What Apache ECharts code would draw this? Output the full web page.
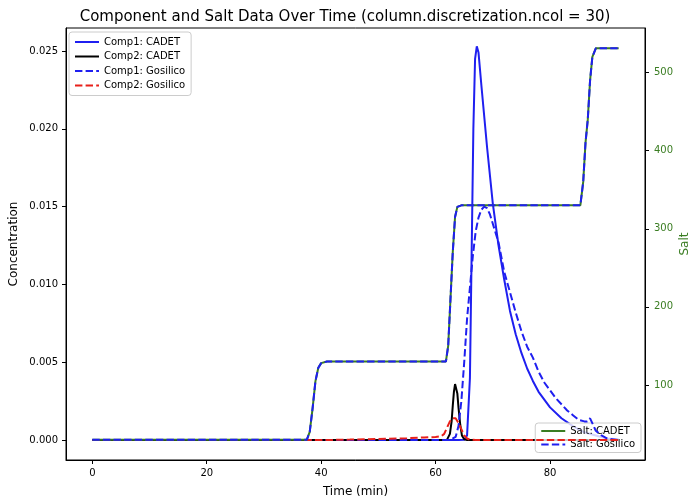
<!DOCTYPE html>
<html>
<head>
<meta charset="utf-8">
<script src="https://cdn.jsdelivr.net/npm/echarts@6/dist/echarts.min.js"></script>
<style>html,body{margin:0;padding:0;background:#fff;}#c{width:689px;height:500px;}</style>
</head>
<body>
<div id="c"></div>
<script>
// ---- Data ----
const saltT = [0, 37.5, 38, 38.5, 39, 39.5, 40, 41, 61.8, 62.2, 62.6, 63, 63.4, 63.8, 64.5, 85.3, 85.8, 86.2, 86.6, 87, 87.4, 88, 92];
const saltCadet = [30, 30, 40, 70, 105, 122, 128, 130, 130, 150, 210, 270, 315, 328, 330, 330, 360, 410, 440, 490, 520, 531, 531];
const saltGosilico = [30, 30, 40, 70, 105, 122, 128, 130, 130, 150, 210, 270, 315, 328, 330, 330, 360, 410, 440, 490, 520, 531, 531];

const comp1CadetT = [0, 64, 65, 65.5, 66, 66.3, 66.6, 66.9, 67.2, 67.5, 68, 69, 70, 71, 72, 73, 74, 75, 76, 77, 78, 80, 82, 84, 86, 88, 90, 92];
const comp1Cadet = [0, 0, 0.00002, 0.0003, 0.004, 0.012, 0.02, 0.0245, 0.0253, 0.0249, 0.0228, 0.0188, 0.0152, 0.0125, 0.0103, 0.0083, 0.0068, 0.0056, 0.0046, 0.0038, 0.0031, 0.0021, 0.0014, 0.0009, 0.0005, 0.0003, 0.0001, 0.00005];

const comp2CadetT = [0, 61.5, 62, 62.5, 62.8, 63, 63.2, 63.4, 63.6, 63.8, 64, 64.3, 64.6, 65, 65.5, 92];
const comp2Cadet = [0, 0, 0.00003, 0.0004, 0.0012, 0.0022, 0.0031, 0.0036, 0.0036, 0.003, 0.0021, 0.001, 0.0003, 0.00005, 0, 0];

const comp1GosT = [0, 62.5, 63.5, 64, 64.5, 65, 65.5, 66, 66.5, 67, 67.5, 68, 68.5, 69, 69.5, 70, 71, 72, 73, 74, 75, 76, 77, 78, 79, 80, 81, 82, 83, 84, 85, 86, 86.5, 87, 87.5, 88, 89, 90, 92];
const comp1Gosilico = [0, 0, 0.0002, 0.0009, 0.0025, 0.005, 0.0078, 0.0098, 0.0118, 0.0134, 0.0143, 0.0148, 0.015, 0.0149, 0.0145, 0.0139, 0.0127, 0.0108, 0.0095, 0.0082, 0.0070, 0.0060, 0.0053, 0.0044, 0.0037, 0.0032, 0.0027, 0.0023, 0.0019, 0.0016, 0.0013, 0.0012, 0.0012, 0.0014, 0.001, 0.0006, 0.0003, 0.0001, 0];

const comp2GosT = [0, 40, 45, 50, 55, 58, 60, 61, 61.5, 62, 62.5, 63, 63.5, 64, 64.5, 65, 65.5, 66, 67, 92];
const comp2Gosilico = [0, 0, 0.00003, 0.00007, 0.00012, 0.00017, 0.0002, 0.00025, 0.0004, 0.0008, 0.0012, 0.0014, 0.0014, 0.0011, 0.0007, 0.0003, 0.0001, 0.00003, 0, 0];

const xTicks = [0, 20, 40, 60, 80];
const yTicks = [0, 0.005, 0.01, 0.015, 0.02, 0.025];
const saltTicks = [100, 200, 300, 400, 500];

// ---- Build chart ----
const zip = (a, b) => a.map((x, i) => [x, b[i]]);
const FONT = 'DejaVu Sans';
const GREEN = '#3a7d22';
const BLUE = '#1f1ff0';
const RED = '#e8201a';
const DASH = [7.4, 3.2];

const chart = echarts.init(document.getElementById('c'), null, {renderer: 'canvas'});
const legendCommon = {
  orient: 'vertical',
  itemWidth: 24, itemHeight: 10,
  backgroundColor: 'rgba(255,255,255,0.8)', borderColor: '#ccc', borderWidth: 1, borderRadius: 3,
  textStyle: {fontFamily: FONT, fontSize: 10, color: '#000'},
  itemStyle: {color: 'transparent', borderWidth: 0, opacity: 0}
};
chart.setOption({
  animation: false,
  backgroundColor: '#fff',
  textStyle: {fontFamily: FONT},
  title: {
    text: 'Component and Salt Data Over Time (column.discretization.ncol = 30)',
    left: 340, top: 5, textAlign: 'center',
    textStyle: {fontFamily: FONT, fontSize: 15, fontWeight: 'normal', color: '#000'}
  },
  grid: {left: 66, right: 44, top: 28, bottom: 40, show: true, borderColor: '#000', borderWidth: 1, backgroundColor: 'transparent', containLabel: false, outerBoundsMode: 'none'},
  xAxis: {
    type: 'value', min: -4.6, max: 96.6,
    name: 'Time (min)', nameLocation: 'middle', nameGap: 26, nameMoveOverlap: false,
    nameTextStyle: {fontFamily: FONT, fontSize: 12, color: '#000'},
    axisLine: {show: true, onZero: false, lineStyle: {color: '#000'}},
    axisTick: {show: true, inside: false, length: 4, lineStyle: {color: '#000'}, customValues: xTicks},
    axisLabel: {fontFamily: FONT, fontSize: 10, color: '#000', margin: 8, customValues: xTicks},
    splitLine: {show: false}
  },
  yAxis: [{
    type: 'value', min: -0.00128, max: 0.02648, position: 'left',
    name: 'Concentration', nameLocation: 'middle', nameGap: 46, nameMoveOverlap: false,
    nameTextStyle: {fontFamily: FONT, fontSize: 12, color: '#000'},
    axisLine: {show: true, onZero: false, lineStyle: {color: '#000'}},
    axisTick: {show: true, inside: false, length: 4, lineStyle: {color: '#000'}, customValues: yTicks},
    axisLabel: {fontFamily: FONT, fontSize: 10, color: '#000', margin: 8, customValues: yTicks, formatter: v => v.toFixed(3)},
    splitLine: {show: false}
  }, {
    type: 'value', min: 4, max: 557, position: 'right',
    name: 'Salt', nameLocation: 'middle', nameGap: 34, nameRotate: 90, nameMoveOverlap: false,
    nameTextStyle: {fontFamily: FONT, fontSize: 12, color: GREEN},
    axisLine: {show: true, onZero: false, lineStyle: {color: '#000'}},
    axisTick: {show: true, inside: false, length: 4, lineStyle: {color: '#000'}, customValues: saltTicks},
    axisLabel: {fontFamily: FONT, fontSize: 10, color: GREEN, margin: 9, customValues: saltTicks},
    splitLine: {show: false}
  }],
  legend: [Object.assign({}, legendCommon, {
    left: 69, top: 32,
    data: ['Comp1: CADET', 'Comp2: CADET', 'Comp1: Gosilico', 'Comp2: Gosilico'],
    itemGap: 4.5, padding: [5, 6, 5, 5]
  }), Object.assign({}, legendCommon, {
    right: 48, top: 423,
    data: ['Salt: CADET', 'Salt: Gosilico'],
    itemGap: 3.5, padding: [3, 6, 3, 5]
  })],
  series: [
    {name: 'Comp1: CADET', type: 'line', yAxisIndex: 0, showSymbol: false, symbol: 'none', data: zip(comp1CadetT, comp1Cadet), lineStyle: {color: BLUE, width: 2}, itemStyle: {color: BLUE}, z: 2},
    {name: 'Comp2: CADET', type: 'line', yAxisIndex: 0, showSymbol: false, symbol: 'none', data: zip(comp2CadetT, comp2Cadet), lineStyle: {color: '#000', width: 2}, itemStyle: {color: '#000'}, z: 3},
    {name: 'Comp1: Gosilico', type: 'line', yAxisIndex: 0, showSymbol: false, symbol: 'none', data: zip(comp1GosT, comp1Gosilico), lineStyle: {color: BLUE, width: 2, type: DASH}, itemStyle: {color: BLUE}, z: 4},
    {name: 'Comp2: Gosilico', type: 'line', yAxisIndex: 0, showSymbol: false, symbol: 'none', data: zip(comp2GosT, comp2Gosilico), lineStyle: {color: RED, width: 2, type: DASH}, itemStyle: {color: RED}, z: 5},
    {name: 'Salt: CADET', type: 'line', yAxisIndex: 1, showSymbol: false, symbol: 'none', data: zip(saltT, saltCadet), lineStyle: {color: GREEN, width: 2}, itemStyle: {color: GREEN}, z: 6},
    {name: 'Salt: Gosilico', type: 'line', yAxisIndex: 1, showSymbol: false, symbol: 'none', data: zip(saltT, saltGosilico), lineStyle: {color: BLUE, width: 2, type: DASH}, itemStyle: {color: BLUE}, z: 7}
  ]
});
</script>
</body>
</html>
